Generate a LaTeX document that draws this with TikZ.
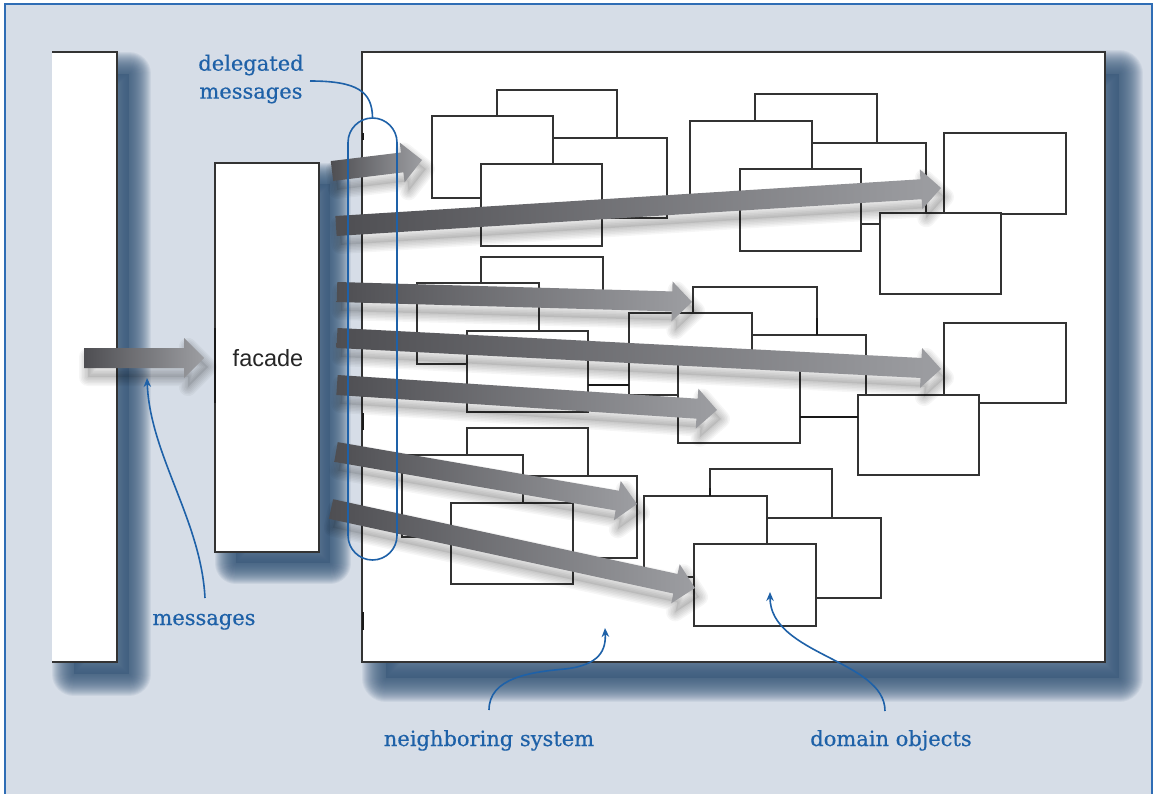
\documentclass[tikz,border=0pt]{standalone}
\usepackage{fontspec}
\newfontfamily\labfont[FakeBold=0.5]{DejaVu Serif}
\newfontfamily\sansf{Liberation Sans}
\usetikzlibrary{calc,arrows.meta}
\definecolor{bgc}{HTML}{D6DDE7}
\definecolor{framec}{HTML}{2F6DB5}
\definecolor{bluec}{HTML}{1E61A8}
\definecolor{shadc}{HTML}{3A5A7C}
\definecolor{boxc}{HTML}{333333}
\definecolor{adark}{HTML}{4E4E52}
\definecolor{alight}{HTML}{9D9EA2}
\tikzset{
  dbox/.style={draw=boxc, fill=white, line width=1.1pt},
  bigbox/.style={draw=boxc, fill=white, line width=1.2pt},
  lab/.style={text=bluec, font=\labfont\fontsize{21}{28}\selectfont, inner sep=0pt},
  leader/.style={draw=bluec, line width=1.6pt, -{Stealth[length=9pt,width=7.5pt]}},
  thick tick/.style={draw=black!90, line width=2.6pt},
}
% #1,#2 corners of the offset shadow rectangle, #3 largest stroke width, #4 layer opacity
\newcommand\softshadow[4]{%
  \fill[shadc, opacity=0.5] (#1) rectangle (#2);
  \foreach \w in {2,4,...,#3}{\draw[shadc, line width=\w pt, opacity=#4, line join=round] (#1) rectangle (#2);}
}
\newcommand\dbox[2]{\draw[dbox] (#1) rectangle (#2);}
\newcommand\apoly[4]{\path[#1] ($(#2)!10pt!90:(#3)$) -- ($(#4)!10pt!90:(#3)$) -- ($(#4)!20pt!90:(#3)$) -- (#3) -- ($(#4)!20pt!-90:(#3)$) -- ($(#4)!10pt!-90:(#3)$) -- ($(#2)!10pt!-90:(#3)$) -- cycle;}
\newcommand\garrow[2]{%
  \coordinate (gh) at ($(#2)!20pt!(#1)$);
  \coordinate (gA) at ($(#1)+(4pt,-9pt)$);
  \coordinate (gB) at ($(#2)+(4pt,-9pt)$);
  \coordinate (gH) at ($(gh)+(4pt,-9pt)$);
  \foreach \w in {3,6,...,18}{\apoly{draw=black, opacity=0.035, line width=\w pt, line join=round}{gA}{gB}{gH}}
  \apoly{fill=black, opacity=0.08}{gA}{gB}{gH}
  \apoly{left color=adark, right color=alight}{#1}{#2}{gh}
}
\begin{document}
\begin{tikzpicture}[x=1pt,y=-1pt]
\useasboundingbox (0,0) rectangle (1155,794);
\clip (0,0) rectangle (1155,794);
\fill[white] (0,0) rectangle (1155,794);
\fill[bgc] (5,4) rectangle (1152,800);

% shadows of the three large boxes
\begin{scope}
  \clip (52,0) rectangle (400,794);
  \softshadow{74,74}{129,674}{44}{0.08}
\end{scope}
\softshadow{236,184}{330,563}{42}{0.085}
\softshadow{386,74}{1119,678}{48}{0.075}

% left system (open on its left side)
\fill[white] (52,52) rectangle (117,662);
\draw[boxc, line width=1.2pt] (52,52) -- (117,52) -- (117,662) -- (52,662);
\coordinate (leftsys) at (84,358);

% facade
\node[bigbox, minimum width=104pt, minimum height=389pt, inner sep=0pt] (facade) at (267,357.5) {};
\node[anchor=base, text=black!85, font=\sansf\fontsize{23.5}{28}\selectfont, inner sep=0pt] (facadelab) at (268,366) {facade};
\draw[thick tick] (215,328) -- (215,403);

% neighboring system
\node[bigbox, minimum width=743pt, minimum height=610pt, inner sep=0pt] (sys) at (733.5,357) {};
\draw[thick tick] (363,133) -- (363,140);
\draw[thick tick] (363,413) -- (363,430);
\draw[thick tick] (363,612) -- (363,630);

% domain objects
\dbox{497,90}{617,170}
\dbox{553,138}{667,218}
\dbox{432,116}{553,198}
\dbox{481,164}{602,246}

\dbox{755,94}{877,175}
\dbox{812,143}{926,224}
\dbox{690,121}{812,203}
\dbox{740,169}{861,251}

\dbox{944,133}{1066,214}
\dbox{880,213}{1001,294}

\dbox{481,257}{603,305}
\dbox{417,283}{539,364}
\dbox{467,331}{588,412}

\dbox{693,287}{817,355}
\dbox{752,335}{866,417}
\dbox{629,313}{752,395}
\dbox{678,362}{800,443}

\dbox{944,323}{1066,403}
\dbox{858,395}{979,475}

\dbox{467,428}{588,510}
\dbox{523,476}{637,558}
\dbox{402,455}{523,537}
\dbox{451,503}{573,584}

\dbox{710,469}{832,550}
\dbox{767,518}{881,598}
\dbox{644,496}{767,577}
\dbox{694,544}{816,626}

\draw[thick tick] (588,385) -- (629,385);
\draw[thick tick] (817,318) -- (817,335);
\draw[draw=black!90, line width=2pt] (800,417) -- (858,417);
\draw[thick tick] (710,488) -- (710,496);

% message arrows
\coordinate (inTip) at (204,358);
\coordinate (aT) at (332,171);  \coordinate (aH) at (422,160);
\coordinate (bT) at (336,226);  \coordinate (bH) at (941,188);
\coordinate (cT) at (337,292);  \coordinate (cH) at (692,302);
\coordinate (dT) at (337,338);  \coordinate (dH) at (941,369);
\coordinate (eT) at (337,385);  \coordinate (eH) at (717,410);
\coordinate (fT) at (336,452);  \coordinate (fH) at (637,504);
\coordinate (gT) at (331,509);  \coordinate (gH2) at (695,588);
\garrow{leftsys}{inTip}
\garrow{aT}{aH}
\garrow{bT}{bH}
\garrow{cT}{cH}
\garrow{dT}{dH}
\garrow{eT}{eH}
\garrow{fT}{fH}
\garrow{gT}{gH2}

% delegated group outline
\node[draw=bluec, line width=1.6pt, rounded corners=24.5pt, minimum width=49pt, minimum height=442pt, inner sep=0pt] (grp) at (372.5,339) {};

% labels
\node[lab, align=center] (dmlab) at (251,79) {delegated\\messages};
\node[lab, anchor=base] (msglab) at (204,625) {messages};
\node[lab, anchor=base] (nslab) at (489,746) {neighboring system};
\node[lab, anchor=base] (dolab) at (891,746) {domain objects};

% leaders
\coordinate (dmS) at (310,81);
\coordinate (msgS) at (205,598);
\coordinate (msgE) at (147,378);
\coordinate (nsS) at (489,710);
\coordinate (nsE) at (605,628);
\coordinate (doS) at (885,711);
\coordinate (doE) at (770,592);
\draw[bluec, line width=1.6pt] (dmS) .. controls (358,81) and (372,92) .. (grp.north);
\draw[leader] (msgS) .. controls (201,520) and (150,455) .. (msgE);
\draw[leader] (nsS) .. controls (489,678) and (530,672) .. (565,669) .. controls (600,665) and (606,650) .. (nsE);
\draw[leader] (doS) .. controls (885,660) and (770,655) .. (doE);

% frame
\draw[framec, line width=2.5pt] (5,800) -- (5,4) -- (1152,4) -- (1152,800);
\end{tikzpicture}
\end{document}
